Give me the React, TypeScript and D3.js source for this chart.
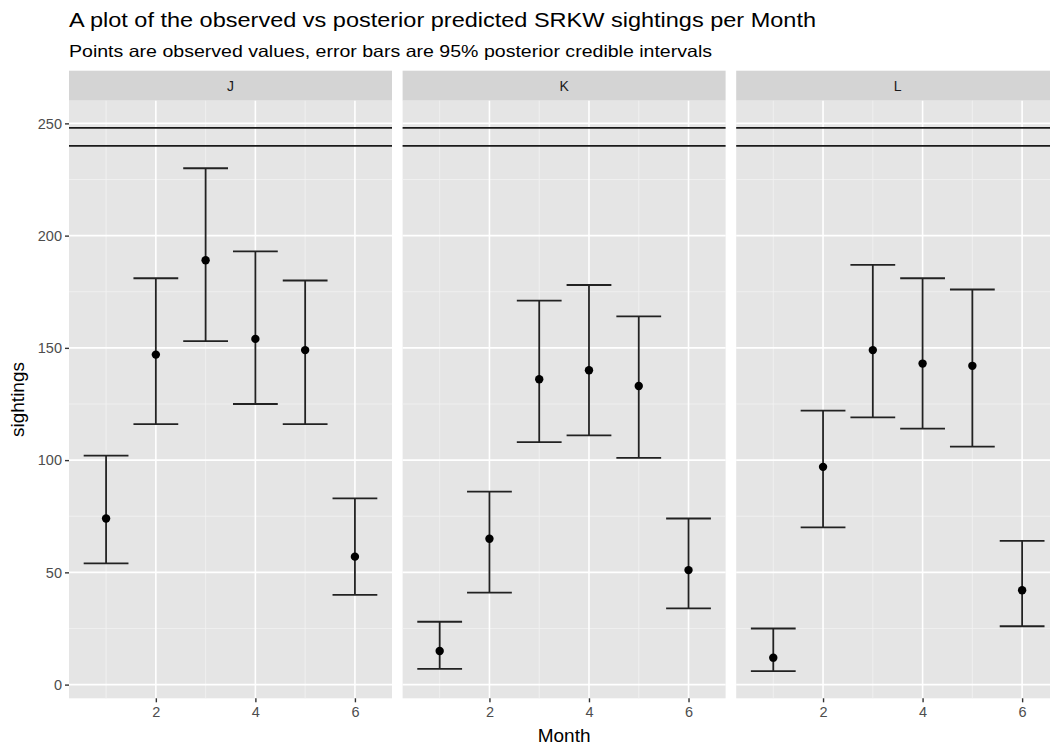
import React, { useEffect, useRef } from 'react';
import * as d3 from 'd3';

// facets and months
const pods = ['J', 'K', 'L'];
const months = [1, 2, 3, 4, 5, 6];

// observed sightings (points)
const observedJ = [74, 147, 189, 154, 149, 57];
const observedK = [15, 65, 136, 140, 133, 51];
const observedL = [12, 97, 149, 143, 142, 42];

// 95% credible interval, lower
const lowerJ = [54, 116, 153, 125, 116, 40];
const lowerK = [7, 41, 108, 111, 101, 34];
const lowerL = [6, 70, 119, 114, 106, 26];

// 95% credible interval, upper
const upperJ = [102, 181, 230, 193, 180, 83];
const upperK = [28, 86, 171, 178, 164, 74];
const upperL = [25, 122, 187, 181, 176, 64];

// horizontal reference lines
const refLines = [248, 240];

const yTicks = [0, 50, 100, 150, 200, 250];
const yMinor = [25, 75, 125, 175, 225];
const xTicks = [2, 4, 6];
const xMinor = [1, 3, 5];

const FONT = '"Liberation Sans", Arial, Helvetica, sans-serif';

const App = () => {
  const svgRef = useRef<SVGSVGElement>(null);

  useEffect(() => {
    if (!svgRef.current) return;
    const svg = d3.select(svgRef.current);
    svg.selectAll('*').remove();

    const w = 1050;
    const h = 749;
    const left = 69;
    const panelW = 323;
    const gap = 10.6;
    const stripTop = 70.7;
    const stripH = 30;
    const top = stripTop + stripH;
    const bottom = 698.3;

    const obs = [observedJ, observedK, observedL];
    const lo = [lowerJ, lowerK, lowerL];
    const hi = [upperJ, upperK, upperL];

    // ggplot style 5% expansion
    const barW = 0.9;
    const xmin = d3.min(months)! - barW / 2;
    const xmax = d3.max(months)! + barW / 2;
    const xpad = (xmax - xmin) * 0.05;
    const x = d3.scaleLinear().domain([xmin - xpad, xmax + xpad]).range([0, panelW]);

    const ymin = d3.min(lo, (d) => d3.min(d))!;
    const ymax = Math.max(d3.max(hi, (d) => d3.max(d))!, d3.max(refLines)!);
    const ypad = (ymax - ymin) * 0.05;
    const y = d3.scaleLinear().domain([ymin - ypad, ymax + ypad]).range([bottom, top]);

    svg.attr('width', w).attr('height', h).style('font-family', FONT);
    svg.append('rect').attr('width', w).attr('height', h).attr('fill', '#fff');

    // titles (reference text runs a bit wider than Liberation Sans)
    svg.append('text')
      .attr('x', left).attr('y', 27)
      .attr('font-size', 19.5).attr('fill', '#000')
      .attr('textLength', 747).attr('lengthAdjust', 'spacingAndGlyphs')
      .text('A plot of the observed vs posterior predicted SRKW sightings per Month');
    svg.append('text')
      .attr('x', left).attr('y', 57)
      .attr('font-size', 16.5).attr('fill', '#000')
      .attr('textLength', 643).attr('lengthAdjust', 'spacingAndGlyphs')
      .text('Points are observed values, error bars are 95% posterior credible intervals');

    pods.forEach((pod, i) => {
      const g = svg.append('g').attr('transform', `translate(${left + i * (panelW + gap)},0)`);

      // strip
      g.append('rect').attr('x', 0).attr('y', stripTop).attr('width', panelW).attr('height', stripH).attr('fill', '#d4d4d4');
      g.append('text')
        .attr('x', panelW / 2).attr('y', stripTop + stripH / 2)
        .attr('dy', '0.35em').attr('text-anchor', 'middle')
        .attr('font-size', 14).attr('fill', '#1a1a1a')
        .text(pod);

      // panel background
      g.append('rect').attr('x', 0).attr('y', top).attr('width', panelW).attr('height', bottom - top).attr('fill', '#e5e5e5');

      // grid
      g.selectAll('.ymin').data(yMinor).enter().append('line')
        .attr('x1', 0).attr('x2', panelW).attr('y1', (d) => y(d)).attr('y2', (d) => y(d))
        .attr('stroke', '#f2f2f2').attr('stroke-width', 0.8);
      g.selectAll('.xmin').data(xMinor).enter().append('line')
        .attr('y1', top).attr('y2', bottom).attr('x1', (d) => x(d)).attr('x2', (d) => x(d))
        .attr('stroke', '#f2f2f2').attr('stroke-width', 0.8);
      g.selectAll('.ymaj').data(yTicks).enter().append('line')
        .attr('x1', 0).attr('x2', panelW).attr('y1', (d) => y(d)).attr('y2', (d) => y(d))
        .attr('stroke', '#fff').attr('stroke-width', 1.6);
      g.selectAll('.xmaj').data(xTicks).enter().append('line')
        .attr('y1', top).attr('y2', bottom).attr('x1', (d) => x(d)).attr('x2', (d) => x(d))
        .attr('stroke', '#fff').attr('stroke-width', 1.6);

      // reference lines
      g.selectAll('.ref').data(refLines).enter().append('line')
        .attr('x1', 0).attr('x2', panelW).attr('y1', (d) => y(d)).attr('y2', (d) => y(d))
        .attr('stroke', '#1a1a1a').attr('stroke-width', 1.7);

      // error bars
      const rows = months.map((m, j) => ({ m, o: obs[i][j], l: lo[i][j], u: hi[i][j] }));
      const eb = g.selectAll('.eb').data(rows).enter().append('g').attr('stroke', '#222').attr('stroke-width', 1.8);
      eb.append('line').attr('x1', (d) => x(d.m)).attr('x2', (d) => x(d.m)).attr('y1', (d) => y(d.l)).attr('y2', (d) => y(d.u));
      eb.append('line').attr('x1', (d) => x(d.m - barW / 2)).attr('x2', (d) => x(d.m + barW / 2)).attr('y1', (d) => y(d.l)).attr('y2', (d) => y(d.l));
      eb.append('line').attr('x1', (d) => x(d.m - barW / 2)).attr('x2', (d) => x(d.m + barW / 2)).attr('y1', (d) => y(d.u)).attr('y2', (d) => y(d.u));

      // observed points
      g.selectAll('.pt').data(rows).enter().append('circle')
        .attr('cx', (d) => x(d.m)).attr('cy', (d) => y(d.o)).attr('r', 4.2)
        .attr('fill', '#000');

      // x axis
      const xAxis = d3.axisBottom(x).tickValues(xTicks).tickSize(4).tickPadding(4).tickFormat(d3.format('d'));
      const xg = g.append('g').attr('transform', `translate(0,${bottom})`).call(xAxis);
      xg.select('.domain').remove();
      xg.selectAll('line').attr('stroke', '#333').attr('stroke-width', 1.4);
      xg.selectAll('text').attr('fill', '#4d4d4d').attr('font-size', 14.5).attr('font-family', FONT);

      if (i === 0) {
        const yAxis = d3.axisLeft(y).tickValues(yTicks).tickSize(4).tickPadding(3).tickFormat(d3.format('d'));
        const yg = g.append('g').call(yAxis);
        yg.select('.domain').remove();
        yg.selectAll('line').attr('stroke', '#333').attr('stroke-width', 1.4);
        yg.selectAll('text').attr('fill', '#4d4d4d').attr('font-size', 14.5).attr('font-family', FONT);
      }
    });

    // axis titles
    const fullRight = left + 3 * panelW + 2 * gap;
    svg.append('text')
      .attr('x', (left + fullRight) / 2).attr('y', 742)
      .attr('text-anchor', 'middle').attr('font-size', 19).attr('fill', '#000')
      .text('Month');
    svg.append('text')
      .attr('transform', `translate(24,${(top + bottom) / 2}) rotate(-90)`)
      .attr('text-anchor', 'middle').attr('font-size', 19).attr('fill', '#000')
      .text('sightings');
  }, []);

  return (
    <div style={{ position: 'absolute', left: 0, top: 0, width: 1050, height: 749, overflow: 'hidden' }}>
      <svg ref={svgRef} style={{ display: 'block' }}></svg>
    </div>
  );
};

export default App;
